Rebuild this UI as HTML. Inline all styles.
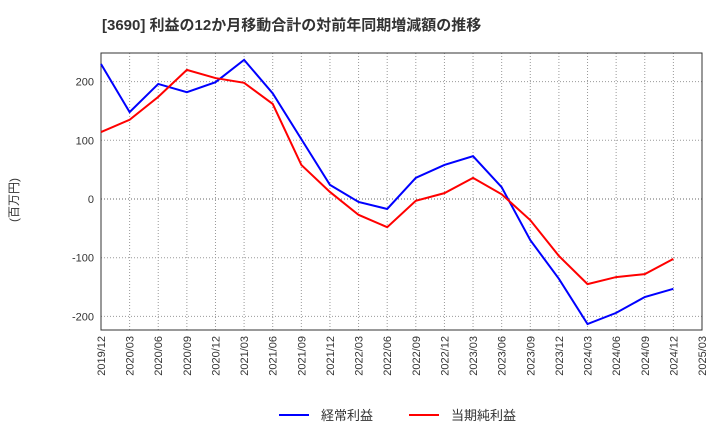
<!DOCTYPE html>
<html><head><meta charset="utf-8"><style>
body{margin:0;background:#fff;font-family:"Liberation Sans","Noto Sans CJK JP",sans-serif;}
svg text{font-family:"Liberation Sans","Noto Sans CJK JP",sans-serif;}
</style></head><body>
<svg id="chart" width="720" height="440">
<text x="102" y="30" font-size="15" font-weight="bold" fill="#333">[3690]  利益の12か月移動合計の対前年同期増減額の推移</text>
<text transform="translate(18,200) rotate(-90)" font-size="12" fill="#333" text-anchor="middle">(百万円)</text>
<g id="grid"></g><g id="axes"></g><g id="series"></g>
<g>
<line x1="279" y1="415" x2="309" y2="415" stroke="#0000ff" stroke-width="2"/>
<text x="321" y="420" font-size="13" fill="#333">経常利益</text>
<line x1="409" y1="415" x2="439" y2="415" stroke="#ff0000" stroke-width="2"/>
<text x="451" y="420" font-size="13" fill="#333">当期純利益</text>
</g>
</svg>
<script>
const categories=["2019/12","2020/03","2020/06","2020/09","2020/12","2021/03","2021/06","2021/09","2021/12","2022/03","2022/06","2022/09","2022/12","2023/03","2023/06","2023/09","2023/12","2024/03","2024/06","2024/09","2024/12","2025/03"];
const keijo=[230,148,196,182,199,237,180,102,24,-5,-17,36,58,73,20,-70,-136,-213,-194,-167,-153];
const junri=[114,135,174,220,206,198,162,58,12,-27,-48,-3,10,36,8,-36,-97,-145,-133,-128,-102];
const yTicks=[200,100,0,-100,-200];
const L=101,R=702,T=53,B=330;
const xs=i=>L+(R-L)*i/(categories.length-1);
const ys=v=>199-v*0.587;
const NS="http://www.w3.org/2000/svg";
function mk(tag,attrs,parent){const e=document.createElementNS(NS,tag);for(const k in attrs)e.setAttribute(k,attrs[k]);document.getElementById(parent).appendChild(e);return e;}
categories.forEach((c,i)=>{
 const g=mk("line",{x1:xs(i),x2:xs(i),y1:T,y2:B,stroke:"#999","stroke-dasharray":"1,2"},"grid");
 
 
 const t=mk("text",{transform:`translate(${xs(i)+4},${B+6}) rotate(-90)`,"font-size":"11",fill:"#333","text-anchor":"end"},"axes");
 t.textContent=c;
 
 
});
yTicks.forEach(v=>{
 const g=mk("line",{x1:L,x2:R,y1:ys(v),y2:ys(v),stroke:v===0?"#666":"#999","stroke-dasharray":"1,2"},"grid");
 
 
 const t=mk("text",{x:L-7,y:ys(v)+4,"font-size":"11",fill:"#333","text-anchor":"end"},"axes");
 t.textContent=v;
 
 
});
const fr=mk("rect",{x:L,y:T,width:R-L,height:B-T,fill:"none",stroke:"#333"},"axes");


[[keijo,"#0000ff","line-keijo"],[junri,"#ff0000","line-junri"]].forEach(([d,c,n])=>{
 const p=mk("polyline",{points:d.map((v,i)=>xs(i)+","+ys(v)).join(" "),fill:"none",stroke:c,"stroke-width":"2"},"series");
 
 
});
</script>
</body></html>
